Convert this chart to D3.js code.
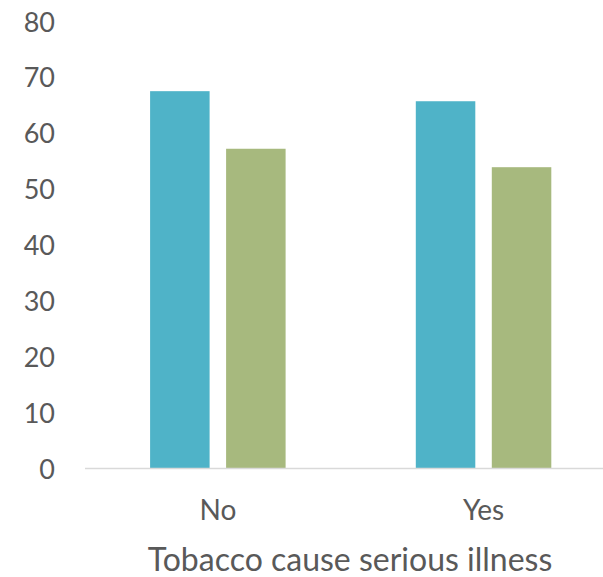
<!DOCTYPE html>
<html>
<head>
<meta charset="utf-8">
<script src="https://cdn.jsdelivr.net/npm/d3@7"></script>
<style>
  html, body { margin: 0; padding: 0; background: #fff; }
  svg { display: block; }
  text { font-family: Lato, "Open Sans", sans-serif; fill: #595959; }
</style>
</head>
<body>
<svg id="chart" width="603" height="577"></svg>
<script>
// Answer groups on the x axis
const categories = ["No", "Yes"];
// Two series, one value per category
const seriesNames = ["Series 1", "Series 2"];
const series1 = [67.5, 65.7];
const series2 = [57.2, 53.9];
// Y axis ticks
const yTicks = [0, 10, 20, 30, 40, 50, 60, 70, 80];
const xTitle = "Tobacco cause serious illness";

const colors = ["#4fb3c8", "#a7b97e"];

const W = 603, H = 577;
const plotLeft = 85, plotRight = 616.4, plotTop = 21.3, plotBottom = 468.5;

const svg = d3.select("#chart");

const x0 = d3.scaleBand()
  .domain(categories)
  .range([plotLeft, plotRight])
  .paddingInner(0.49)
  .paddingOuter(0.245);

const x1 = d3.scaleBand()
  .domain(seriesNames)
  .range([0, x0.bandwidth()])
  .paddingInner(0.217)
  .paddingOuter(0);

const y = d3.scaleLinear().domain([0, 80]).range([plotBottom, plotTop]);

const rows = categories.map((c, i) => ({
  cat: c,
  vals: [series1[i], series2[i]].map((v, j) => ({ key: seriesNames[j], v, j }))
}));

// Bars
const g = svg.append("g");
g.selectAll("g.grp")
  .data(rows)
  .join("g")
  .attr("class", "grp")
  .attr("transform", d => `translate(${x0(d.cat)},0)`)
  .selectAll("rect")
  .data(d => d.vals)
  .join("rect")
  .attr("x", d => x1(d.key))
  .attr("width", x1.bandwidth())
  .attr("y", d => y(d.v))
  .attr("height", d => y(0) - y(d.v))
  .attr("fill", d => colors[d.j]);

// Baseline
svg.append("line")
  .attr("x1", plotLeft).attr("x2", W)
  .attr("y1", y(0)).attr("y2", y(0))
  .attr("stroke", "#d9d9d9").attr("stroke-width", 1.5);

// Y axis labels
const yAxis = d3.axisLeft(y).tickValues(yTicks).tickSize(0).tickPadding(0);
const ya = svg.append("g").attr("transform", "translate(55,0)").call(yAxis);
ya.select(".domain").remove();
ya.selectAll("text")
  .attr("font-family", "Lato, 'Open Sans', sans-serif")
  .style("font-size", "27px")
  .attr("fill", "#595959")
  .attr("dy", "0.36em");

// X category labels
const xAxis = d3.axisBottom(x0).tickSize(0).tickPadding(0);
const xa = svg.append("g").attr("transform", `translate(0,${520})`).call(xAxis);
xa.select(".domain").remove();
xa.selectAll("text")
  .attr("font-family", "Lato, 'Open Sans', sans-serif")
  .style("font-size", "28px")
  .attr("fill", "#595959")
  .attr("y", 0)
  .attr("dy", 0);

// X axis title
svg.append("text")
  .attr("x", 350)
  .attr("y", 570.5)
  .attr("text-anchor", "middle")
  .style("font-size", "32px")
  .text(xTitle);
</script>
</body>
</html>
